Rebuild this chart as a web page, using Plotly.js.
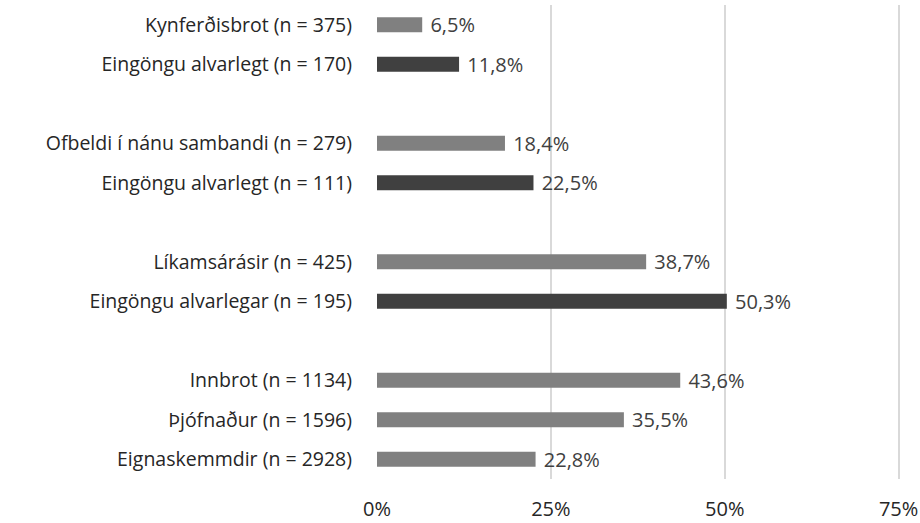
<!DOCTYPE html>
<html>
<head>
<meta charset="utf-8">
<script src="https://cdn.plot.ly/plotly-3.0.1.min.js"></script>
<style>html,body{margin:0;padding:0;background:#fff;}#chart{width:920px;height:523px;}</style>
</head>
<body>
<div id="chart"></div>
<script>
// Rows top to bottom; null marks a blank spacer row between groups
const categories = [
  "Kynferðisbrot (n = 375)",
  "Eingöngu alvarlegt (n = 170)",
  null,
  "Ofbeldi í nánu sambandi (n = 279)",
  "Eingöngu alvarlegt (n = 111)",
  null,
  "Líkamsárásir (n = 425)",
  "Eingöngu alvarlegar (n = 195)",
  null,
  "Innbrot (n = 1134)",
  "Þjófnaður (n = 1596)",
  "Eignaskemmdir (n = 2928)"
];
const values = [6.5, 11.8, null, 18.4, 22.5, null, 38.7, 50.3, null, 43.6, 35.5, 22.8];
const seriousOnly = [false, true, null, false, true, null, false, true, null, false, false, false];
const xTickVals = [0, 25, 50, 75];
const xTickText = ["0%", "25%", "50%", "75%"];

const ys = [], xs = [], cols = [], tv = [], tt = [];
categories.forEach((c, i) => {
  if (c === null) return;
  ys.push(i); xs.push(values[i]);
  cols.push(seriousOnly[i] ? "#404040" : "#808080");
  tv.push(i); tt.push(c);
});

const font = "'Open Sans', sans-serif";
const trace = {
  type: "bar", orientation: "h",
  x: xs, y: ys,
  width: 0.38,
  marker: {color: cols, line: {width: 0}},
  texttemplate: "\u00a0%{x:.1f}%",
  textposition: "outside",
  constraintext: "none",
  cliponaxis: false,
  textfont: {family: font, size: 20, color: "#404040"},
  hoverinfo: "skip"
};

const layout = {
  width: 920, height: 523,
  margin: {l: 377, r: 20, t: 5, b: 44},
  paper_bgcolor: "#fff", plot_bgcolor: "#fff",
  separators: ",.",
  showlegend: false,
  font: {family: font, size: 19, color: "#262626"},
  xaxis: {
    range: [0, 75.2], tickvals: xTickVals, ticktext: xTickText,
    showgrid: true, gridcolor: "#d9d9d9", gridwidth: 2,
    zeroline: false, showline: false,
    ticks: "", ticklabelstandoff: 16, ticklabeloverflow: "allow",
    tickfont: {family: font, size: 20, color: "#262626"},
    fixedrange: true
  },
  yaxis: {
    range: [11.5, -0.5], tickvals: tv, ticktext: tt,
    showgrid: false, zeroline: false, showline: false,
    ticks: "", ticklabelstandoff: 24,
    tickfont: {family: font, size: 19.5, color: "#262626"},
    fixedrange: true
  }
};

Plotly.newPlot("chart", [trace], layout, {displayModeBar: false, staticPlot: true});
</script>
</body>
</html>
